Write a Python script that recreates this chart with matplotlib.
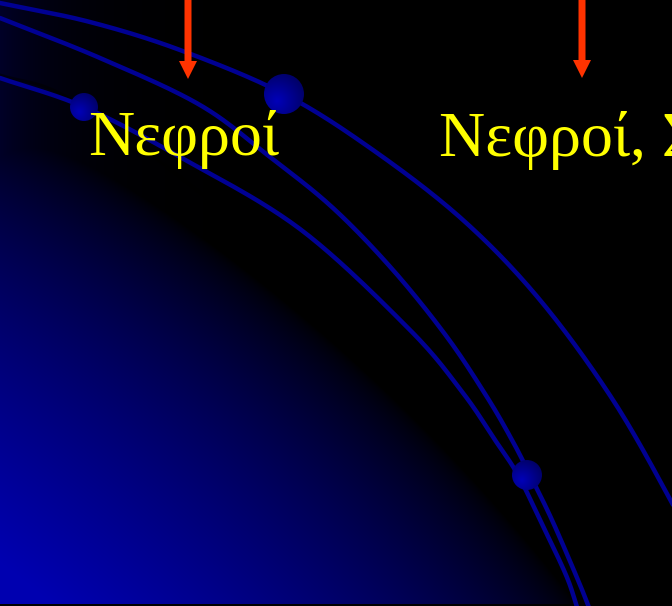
import numpy as np
import matplotlib
matplotlib.use('Agg')
import matplotlib.pyplot as plt
from matplotlib.patches import Circle

W, H = 672, 606

# τόξα (ίχνη από την εικόνα, σε pixel)
arc1_x = [0, 90, 180, 284, 373, 463, 540, 613, 672, 700]
arc1_y = [3, 22, 50, 94, 150, 220, 300, 400, 503, 560]
arc2_x = [0, 100, 200, 270, 333, 393, 447, 487, 512, 530, 552, 578, 590]
arc2_y = [18, 58, 105, 157, 208, 270, 337, 397, 440, 475, 520, 580, 610]
arc3_x = [0, 84, 180, 300, 410, 463, 495, 518, 540, 566, 578]
arc3_y = [78, 107, 157, 229, 330, 393, 440, 475, 520, 575, 610]
edge_x = [0, 67, 180, 280, 380, 480, 613, 630]
edge_y = [75, 97, 177, 260, 363, 477, 603, 620]

# σφαίρες
ball_x = [84, 284, 527]
ball_y = [107, 94, 475]
ball_r = [14, 20, 15]

# βέλη και κείμενα
arrow_x = [188, 582]
arrow_tip = [79, 78]
labels = ['Νεφροί', 'Νεφροί, Σ']
label_x = [88, 439]
label_y = [155, 156]

# όριο του μπλε φόντου (κύκλος)
grad_cx, grad_cy, grad_R = -894, 1733, 1884


def catmull(xs, ys, n=24):
    p = np.column_stack([xs, ys]).astype(float)
    p = np.vstack([2*p[0] - p[1], p, 2*p[-1] - p[-2]])
    out = []
    t = np.linspace(0, 1, n, endpoint=False)[:, None]
    for i in range(1, len(p) - 2):
        p0, p1, p2, p3 = p[i-1], p[i], p[i+1], p[i+2]
        out.append(0.5*((2*p1) + (-p0 + p2)*t + (2*p0 - 5*p1 + 4*p2 - p3)*t**2
                        + (-p0 + 3*p1 - 3*p2 + p3)*t**3))
    out.append(p[-2][None, :])
    out = np.vstack(out)
    return out[:, 0], out[:, 1]


fig = plt.figure(figsize=(W/100, H/100), dpi=100)
fig.patch.set_facecolor('black')
ax = fig.add_axes([0, 0, 1, 1])
ax.set_xlim(0, W)
ax.set_ylim(H, 0)
ax.axis('off')

# φόντο: μπλε από κάτω αριστερά προς μαύρο
yy, xx = np.mgrid[0:H, 0:W] + 0.5
s = grad_R - np.hypot(xx - grad_cx, yy - grad_cy)
v = 176*np.clip((s - 30)/380, 0, 1)**0.68
v = np.maximum(v, 40*np.exp(-xx/55))
img = np.zeros((H, W, 3))
img[..., 2] = v/255
img[-2:, :, :] = 0
ax.imshow(img, extent=[0, W, H, 0], interpolation='bilinear', zorder=0)

ex, ey = catmull(edge_x, edge_y)
ax.plot(ex, ey, color='black', lw=2.2, alpha=0.5, zorder=1)

for xs, ys in [(arc1_x, arc1_y), (arc2_x, arc2_y), (arc3_x, arc3_y)]:
    cx, cy = catmull(xs, ys)
    ax.plot(cx, cy, color='#000092', lw=3.2, solid_capstyle='round', zorder=2)

# σφαίρες με σκίαση
g = np.linspace(-1, 1, 64)
gx, gy = np.meshgrid(g, g)
d = np.hypot(gx + 0.35, gy - 0.35)
shade = np.zeros((64, 64, 3))
shade[..., 2] = np.clip(185 - 55*d, 85, 185)/255
for bx, by, br in zip(ball_x, ball_y, ball_r):
    im = ax.imshow(shade, extent=[bx - br, bx + br, by + br, by - br], zorder=3,
                   interpolation='bilinear')
    im.set_clip_path(Circle((bx, by), br, transform=ax.transData))

for x, tip in zip(arrow_x, arrow_tip):
    ax.arrow(x, -5, 0, tip + 5, width=7, head_width=18, head_length=18,
             length_includes_head=True, color='#FF3300', lw=0, zorder=4)

for t, x, y in zip(labels, label_x, label_y):
    ax.text(x, y, t, color='#FFFF00', fontsize=46, family=['Liberation Serif', 'DejaVu Serif'],
            ha='left', va='baseline', zorder=5)

fig.savefig('out.png', dpi=100, facecolor='black')
